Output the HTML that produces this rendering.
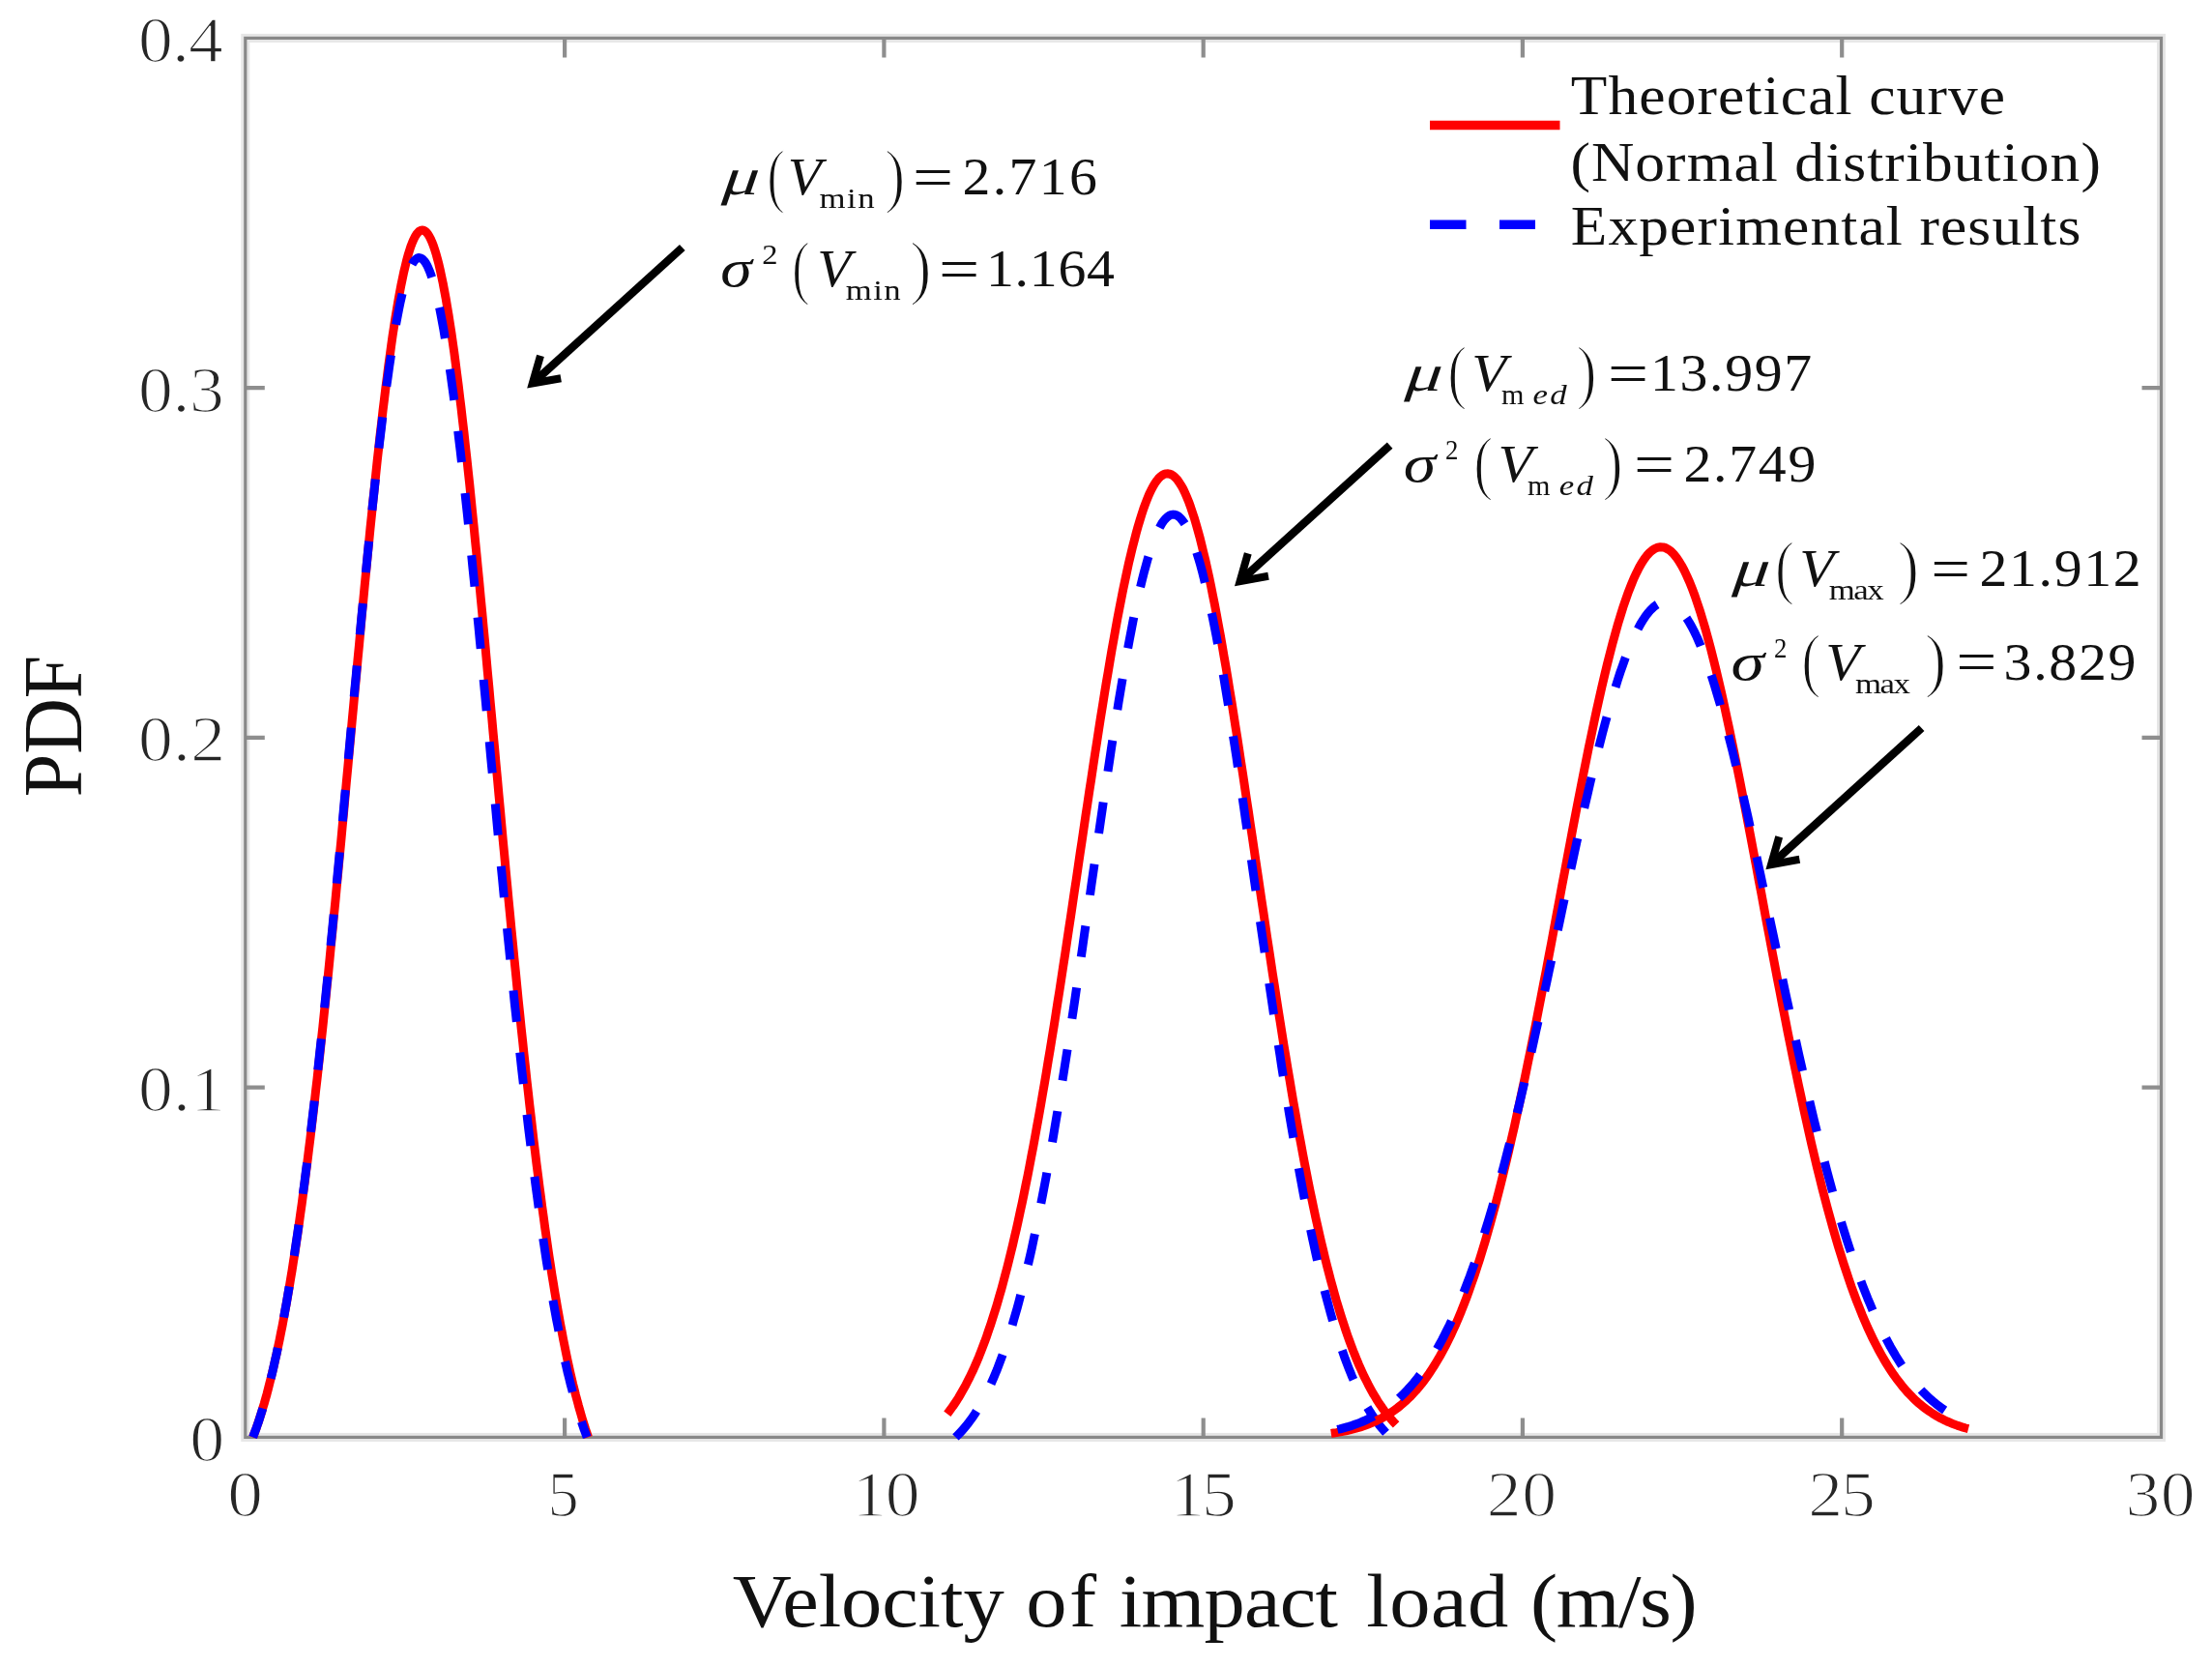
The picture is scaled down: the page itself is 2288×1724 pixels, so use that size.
<!DOCTYPE html><html><head><meta charset="utf-8"><title>PDF of impact load velocity</title>
<style>html,body{margin:0;padding:0;background:#fff}svg{display:block;filter:blur(0.6px)}text{font-family:"Liberation Serif","DejaVu Serif",serif;white-space:pre}</style></head><body>
<svg width="2288" height="1724" viewBox="0 0 2288 1724">
<rect width="2288" height="1724" fill="#fff"/>
<rect x="253.8" y="39.4" width="1981.7" height="1447.0" fill="none" stroke="#e6e6e6" stroke-width="9"/>
<g stroke="#8e8e8e" stroke-width="4.2" fill="none">
<path d="M584.1 1486.4v-20 M584.1 39.4v20"/>
<path d="M914.4 1486.4v-20 M914.4 39.4v20"/>
<path d="M1244.7 1486.4v-20 M1244.7 39.4v20"/>
<path d="M1574.9 1486.4v-20 M1574.9 39.4v20"/>
<path d="M1905.2 1486.4v-20 M1905.2 39.4v20"/>
<path d="M253.8 1124.7h20 M2235.5 1124.7h-20"/>
<path d="M253.8 762.9h20 M2235.5 762.9h-20"/>
<path d="M253.8 401.2h20 M2235.5 401.2h-20"/>
</g>
<rect x="253.8" y="39.4" width="1981.7" height="1447.0" fill="none" stroke="#888" stroke-width="3.2"/>
<text transform="translate(84.2 824.3) rotate(-90) scale(1 1.086)" font-size="79.9" fill="#111">PDF</text>
<path d="M261.6 1486.4 L263.0 1482.6 L264.5 1478.7 L265.9 1474.6 L267.4 1470.3 L268.8 1465.9 L270.3 1461.4 L271.7 1456.6 L273.2 1451.7 L274.6 1446.7 L276.1 1441.4 L277.5 1436.0 L278.9 1430.4 L280.4 1424.6 L281.8 1418.7 L283.3 1412.5 L284.7 1406.1 L286.2 1399.6 L287.6 1392.8 L289.1 1385.9 L290.5 1378.7 L292.0 1371.3 L293.4 1363.7 L294.8 1355.9 L296.3 1347.9 L297.7 1339.7 L299.2 1331.2 L300.6 1322.6 L302.1 1313.7 L303.5 1304.5 L305.0 1295.2 L306.4 1285.6 L307.9 1275.8 L309.3 1265.8 L310.7 1255.5 L312.2 1245.1 L313.6 1234.3 L315.1 1223.4 L316.5 1212.3 L318.0 1200.9 L319.4 1189.3 L320.9 1177.5 L322.3 1165.5 L323.8 1153.2 L325.2 1140.8 L326.6 1128.1 L328.1 1115.2 L329.5 1102.2 L331.0 1088.9 L332.4 1075.5 L333.9 1061.8 L335.3 1048.0 L336.8 1034.0 L338.2 1019.8 L339.7 1005.5 L341.1 991.1 L342.5 976.4 L344.0 961.7 L345.4 946.8 L346.9 931.7 L348.3 916.6 L349.8 901.4 L351.2 886.0 L352.7 870.6 L354.1 855.1 L355.6 839.5 L357.0 823.9 L358.4 808.2 L359.9 792.5 L361.3 776.8 L362.8 761.0 L364.2 745.3 L365.7 729.5 L367.1 713.8 L368.6 698.2 L370.0 682.5 L371.5 667.0 L372.9 651.5 L374.3 636.1 L375.8 620.8 L377.2 605.6 L378.7 590.6 L380.1 575.7 L381.6 560.9 L383.0 546.3 L384.5 531.9 L385.9 517.7 L387.4 503.7 L388.8 490.0 L390.2 476.5 L391.7 463.2 L393.1 450.2 L394.6 437.5 L396.0 425.0 L397.5 412.9 L398.9 401.1 L400.4 389.6 L401.8 378.4 L403.3 367.6 L404.7 357.2 L406.1 347.1 L407.6 337.5 L409.0 328.2 L410.5 319.3 L411.9 310.9 L413.4 302.8 L414.8 295.2 L416.3 288.1 L417.7 281.4 L419.2 275.2 L420.6 269.4 L422.0 264.1 L423.5 259.2 L424.9 254.9 L426.4 251.0 L427.8 247.7 L429.3 244.8 L430.7 242.4 L432.2 240.6 L433.6 239.2 L435.1 238.4 L436.5 238.0 L438.0 238.2 L439.4 238.8 L440.8 240.0 L442.3 241.7 L443.7 243.9 L445.2 246.6 L446.6 249.8 L448.1 253.5 L449.5 257.7 L451.0 262.4 L452.4 267.5 L453.9 273.2 L455.3 279.3 L456.7 285.9 L458.2 292.9 L459.6 300.4 L461.1 308.3 L462.5 316.7 L464.0 325.5 L465.4 334.6 L466.9 344.2 L468.3 354.2 L469.8 364.6 L471.2 375.3 L472.6 386.4 L474.1 397.9 L475.5 409.7 L477.0 421.8 L478.4 434.2 L479.9 446.9 L481.3 459.9 L482.8 473.2 L484.2 486.7 L485.7 500.5 L487.1 514.5 L488.5 528.7 L490.0 543.2 L491.4 557.8 L492.9 572.6 L494.3 587.5 L495.8 602.6 L497.2 617.9 L498.7 633.3 L500.1 648.7 L501.6 664.3 L503.0 679.9 L504.4 695.7 L505.9 711.4 L507.3 727.3 L508.8 743.1 L510.2 759.0 L511.7 774.8 L513.1 790.7 L514.6 806.5 L516.0 822.3 L517.5 838.1 L518.9 853.8 L520.3 869.5 L521.8 885.0 L523.2 900.5 L524.7 915.9 L526.1 931.2 L527.6 946.4 L529.0 961.4 L530.5 976.4 L531.9 991.2 L533.4 1005.8 L534.8 1020.3 L536.2 1034.6 L537.7 1048.8 L539.1 1062.8 L540.6 1076.6 L542.0 1090.2 L543.5 1103.6 L544.9 1116.9 L546.4 1129.9 L547.8 1142.7 L549.3 1155.4 L550.7 1167.8 L552.1 1180.0 L553.6 1192.0 L555.0 1203.7 L556.5 1215.3 L557.9 1226.6 L559.4 1237.7 L560.8 1248.5 L562.3 1259.2 L563.7 1269.6 L565.2 1279.8 L566.6 1289.8 L568.0 1299.5 L569.5 1309.0 L570.9 1318.3 L572.4 1327.3 L573.8 1336.1 L575.3 1344.7 L576.7 1353.1 L578.2 1361.3 L579.6 1369.2 L581.1 1376.9 L582.5 1384.5 L584.0 1391.8 L585.4 1398.8 L586.8 1405.7 L588.3 1412.4 L589.7 1418.9 L591.2 1425.2 L592.6 1431.3 L594.1 1437.2 L595.5 1442.9 L597.0 1448.4 L598.4 1453.7 L599.9 1458.9 L601.3 1463.9 L602.7 1468.7 L604.2 1473.4 L605.6 1477.9 L607.1 1482.2 L608.5 1486.4" fill="none" stroke="#ff0000" stroke-width="9" stroke-linejoin="round"/>
<path d="M261.6 1486.4 L263.0 1482.6 L264.5 1478.7 L265.9 1474.6 L267.4 1470.4 L268.8 1466.1 L270.2 1461.5 L271.7 1456.8 L273.1 1451.9 L274.6 1446.9 L276.0 1441.7 L277.4 1436.3 L278.9 1430.7 L280.3 1424.9 L281.8 1419.0 L283.2 1412.8 L284.6 1406.4 L286.1 1399.9 L287.5 1393.1 L289.0 1386.2 L290.4 1379.0 L291.8 1371.6 L293.3 1364.0 L294.7 1356.2 L296.2 1348.2 L297.6 1340.0 L299.0 1331.5 L300.5 1322.8 L301.9 1313.9 L303.4 1304.8 L304.8 1295.4 L306.2 1285.8 L307.7 1276.0 L309.1 1265.9 L310.6 1255.6 L312.0 1245.1 L313.4 1234.4 L314.9 1223.5 L316.3 1212.3 L317.8 1200.9 L319.2 1189.3 L320.6 1177.4 L322.1 1165.4 L323.5 1153.1 L325.0 1140.6 L326.4 1127.9 L327.8 1115.0 L329.3 1102.0 L330.7 1088.7 L332.2 1075.2 L333.6 1061.6 L335.0 1047.7 L336.5 1033.7 L337.9 1019.6 L339.4 1005.3 L340.8 990.8 L342.2 976.2 L343.7 961.4 L345.1 946.6 L346.6 931.6 L348.0 916.5 L349.4 901.3 L350.9 886.0 L352.3 870.6 L353.8 855.2 L355.2 839.7 L356.6 824.2 L358.1 808.6 L359.5 793.0 L361.0 777.4 L362.4 761.8 L363.8 746.2 L365.3 730.6 L366.7 715.1 L368.2 699.6 L369.6 684.2 L371.0 668.9 L372.5 653.6 L373.9 638.5 L375.4 623.4 L376.8 608.6 L378.2 593.8 L379.7 579.2 L381.1 564.8 L382.6 550.6 L384.0 536.6 L385.4 522.7 L386.9 509.2 L388.3 495.8 L389.8 482.8 L391.2 469.9 L392.6 457.4 L394.1 445.2 L395.5 433.3 L397.0 421.7 L398.4 410.4 L399.8 399.5 L401.3 389.0 L402.7 378.8 L404.2 369.0 L405.6 359.6 L407.0 350.5 L408.5 342.0 L409.9 333.8 L411.4 326.0 L412.8 318.7 L414.2 311.9 L415.7 305.5 L417.1 299.6 L418.6 294.1 L420.0 289.2 L421.4 284.7 L422.9 280.7 L424.3 277.1 L425.8 274.1 L427.2 271.6 L428.6 269.6 L430.1 268.1 L431.5 267.1 L433.0 266.6 L434.4 266.7 L435.8 267.2 L437.3 268.2 L438.7 269.7 L440.2 271.7 L441.6 274.2 L443.0 277.2 L444.5 280.7 L445.9 284.6 L447.4 289.1 L448.8 294.0 L450.2 299.3 L451.7 305.2 L453.1 311.4 L454.6 318.2 L456.0 325.3 L457.4 332.9 L458.9 340.9 L460.3 349.4 L461.8 358.2 L463.2 367.4 L464.6 377.1 L466.1 387.1 L467.5 397.4 L469.0 408.1 L470.4 419.2 L471.8 430.5 L473.3 442.2 L474.7 454.2 L476.2 466.5 L477.6 479.1 L479.0 491.9 L480.5 505.0 L481.9 518.4 L483.4 531.9 L484.8 545.7 L486.2 559.7 L487.7 573.9 L489.1 588.2 L490.6 602.7 L492.0 617.4 L493.4 632.2 L494.9 647.1 L496.3 662.1 L497.8 677.2 L499.2 692.4 L500.6 707.7 L502.1 723.0 L503.5 738.4 L505.0 753.8 L506.4 769.2 L507.8 784.6 L509.3 800.0 L510.7 815.4 L512.2 830.8 L513.6 846.1 L515.0 861.4 L516.5 876.6 L517.9 891.8 L519.4 906.9 L520.8 921.9 L522.2 936.8 L523.7 951.5 L525.1 966.2 L526.6 980.7 L528.0 995.1 L529.4 1009.4 L530.9 1023.5 L532.3 1037.5 L533.8 1051.3 L535.2 1064.9 L536.6 1078.4 L538.1 1091.7 L539.5 1104.8 L541.0 1117.7 L542.4 1130.4 L543.8 1142.9 L545.3 1155.2 L546.7 1167.3 L548.2 1179.2 L549.6 1190.9 L551.0 1202.4 L552.5 1213.7 L553.9 1224.7 L555.4 1235.6 L556.8 1246.2 L558.2 1256.6 L559.7 1266.7 L561.1 1276.7 L562.6 1286.4 L564.0 1295.9 L565.4 1305.2 L566.9 1314.3 L568.3 1323.1 L569.8 1331.7 L571.2 1340.1 L572.6 1348.3 L574.1 1356.3 L575.5 1364.1 L577.0 1371.6 L578.4 1378.9 L579.8 1386.1 L581.3 1393.0 L582.7 1399.7 L584.2 1406.3 L585.6 1412.6 L587.0 1418.8 L588.5 1424.7 L589.9 1430.5 L591.4 1436.1 L592.8 1441.5 L594.2 1446.7 L595.7 1451.8 L597.1 1456.6 L598.6 1461.4 L600.0 1465.9 L601.4 1470.3 L602.9 1474.6 L604.3 1478.7 L605.8 1482.6 L607.2 1486.4" fill="none" stroke="#0000ff" stroke-width="9" stroke-dasharray="31.5 32.1 32.5 32.1 32.5 32.1 32.5 32.1 32.5 32.1 32.5 32.1 32.5 32.1 32.5 32.1 32.5 32.1 32.5 32.1 32.5 32.1 32.5 32.1 32.5 32.1 32.5 32.1 32.5 32.1 32.5 32.1 32.5 32.1 32.5 32.1 32.5 32.1 35.8 32.1 32.5 32.1 32.5 32.1 32.5 32.1 32.5 32.1 32.5 32.1 32.5 32.1 32.5 32.1 32.5 32.1 32.5 32.1 32.5 32.1 32.5 32.1 32.5 32.1 32.5 32.1 32.5 32.1 32.5 32.1 32.5 32.1 32.5 32.1 32.5 32.1 32.5 32.1 32.5 32.1" stroke-linejoin="round"/>
<path d="M979.8 1462.2 L981.7 1459.7 L983.6 1457.1 L985.6 1454.4 L987.5 1451.6 L989.4 1448.7 L991.4 1445.6 L993.3 1442.4 L995.2 1439.1 L997.2 1435.6 L999.1 1432.1 L1001.0 1428.3 L1003.0 1424.4 L1004.9 1420.4 L1006.9 1416.2 L1008.8 1411.9 L1010.7 1407.4 L1012.7 1402.7 L1014.6 1397.9 L1016.5 1392.9 L1018.5 1387.7 L1020.4 1382.4 L1022.3 1376.8 L1024.3 1371.1 L1026.2 1365.2 L1028.1 1359.2 L1030.1 1352.9 L1032.0 1346.4 L1033.9 1339.8 L1035.9 1332.9 L1037.8 1325.9 L1039.7 1318.6 L1041.7 1311.2 L1043.6 1303.5 L1045.5 1295.7 L1047.5 1287.6 L1049.4 1279.3 L1051.4 1270.9 L1053.3 1262.2 L1055.2 1253.3 L1057.2 1244.3 L1059.1 1235.0 L1061.0 1225.5 L1063.0 1215.9 L1064.9 1206.0 L1066.8 1195.9 L1068.8 1185.7 L1070.7 1175.3 L1072.6 1164.6 L1074.6 1153.8 L1076.5 1142.9 L1078.4 1131.7 L1080.4 1120.4 L1082.3 1108.9 L1084.2 1097.3 L1086.2 1085.5 L1088.1 1073.6 L1090.1 1061.5 L1092.0 1049.4 L1093.9 1037.0 L1095.9 1024.6 L1097.8 1012.1 L1099.7 999.5 L1101.7 986.7 L1103.6 973.9 L1105.5 961.1 L1107.5 948.1 L1109.4 935.2 L1111.3 922.2 L1113.3 909.1 L1115.2 896.1 L1117.1 883.0 L1119.1 869.9 L1121.0 856.9 L1122.9 843.9 L1124.9 830.9 L1126.8 818.0 L1128.8 805.2 L1130.7 792.4 L1132.6 779.8 L1134.6 767.2 L1136.5 754.8 L1138.4 742.5 L1140.4 730.3 L1142.3 718.3 L1144.2 706.5 L1146.2 694.9 L1148.1 683.5 L1150.0 672.2 L1152.0 661.2 L1153.9 650.5 L1155.8 640.0 L1157.8 629.7 L1159.7 619.8 L1161.6 610.1 L1163.6 600.7 L1165.5 591.7 L1167.4 582.9 L1169.4 574.5 L1171.3 566.5 L1173.3 558.8 L1175.2 551.4 L1177.1 544.5 L1179.1 537.9 L1181.0 531.7 L1182.9 525.9 L1184.9 520.5 L1186.8 515.6 L1188.7 511.0 L1190.7 506.9 L1192.6 503.2 L1194.5 500.0 L1196.5 497.2 L1198.4 494.8 L1200.3 492.9 L1202.3 491.5 L1204.2 490.4 L1206.1 489.9 L1208.1 489.8 L1210.0 490.2 L1212.0 491.0 L1213.9 492.2 L1215.8 494.0 L1217.8 496.1 L1219.7 498.8 L1221.6 501.8 L1223.6 505.3 L1225.5 509.3 L1227.4 513.6 L1229.4 518.4 L1231.3 523.6 L1233.2 529.3 L1235.2 535.3 L1237.1 541.7 L1239.0 548.5 L1241.0 555.7 L1242.9 563.3 L1244.8 571.2 L1246.8 579.4 L1248.7 588.0 L1250.7 597.0 L1252.6 606.2 L1254.5 615.8 L1256.5 625.6 L1258.4 635.8 L1260.3 646.2 L1262.3 656.8 L1264.2 667.7 L1266.1 678.9 L1268.1 690.2 L1270.0 701.8 L1271.9 713.6 L1273.9 725.5 L1275.8 737.6 L1277.7 749.9 L1279.7 762.3 L1281.6 774.8 L1283.5 787.4 L1285.5 800.1 L1287.4 813.0 L1289.3 825.9 L1291.3 838.8 L1293.2 851.8 L1295.2 864.9 L1297.1 877.9 L1299.0 891.0 L1301.0 904.1 L1302.9 917.1 L1304.8 930.2 L1306.8 943.2 L1308.7 956.2 L1310.6 969.1 L1312.6 981.9 L1314.5 994.7 L1316.4 1007.4 L1318.4 1020.0 L1320.3 1032.4 L1322.2 1044.8 L1324.2 1057.1 L1326.1 1069.2 L1328.0 1081.2 L1330.0 1093.1 L1331.9 1104.8 L1333.9 1116.3 L1335.8 1127.7 L1337.7 1139.0 L1339.7 1150.0 L1341.6 1160.9 L1343.5 1171.6 L1345.5 1182.1 L1347.4 1192.5 L1349.3 1202.6 L1351.3 1212.6 L1353.2 1222.3 L1355.1 1231.9 L1357.1 1241.3 L1359.0 1250.4 L1360.9 1259.4 L1362.9 1268.2 L1364.8 1276.7 L1366.7 1285.1 L1368.7 1293.2 L1370.6 1301.2 L1372.5 1308.9 L1374.5 1316.5 L1376.4 1323.8 L1378.4 1331.0 L1380.3 1337.9 L1382.2 1344.7 L1384.2 1351.2 L1386.1 1357.6 L1388.0 1363.7 L1390.0 1369.7 L1391.9 1375.5 L1393.8 1381.1 L1395.8 1386.6 L1397.7 1391.8 L1399.6 1396.9 L1401.6 1401.8 L1403.5 1406.6 L1405.4 1411.1 L1407.4 1415.5 L1409.3 1419.8 L1411.2 1423.9 L1413.2 1427.8 L1415.1 1431.6 L1417.1 1435.3 L1419.0 1438.8 L1420.9 1442.2 L1422.9 1445.4 L1424.8 1448.6 L1426.7 1451.6 L1428.7 1454.4 L1430.6 1457.2 L1432.5 1459.8 L1434.5 1462.3 L1436.4 1464.7 L1438.3 1467.0 L1440.3 1469.3 L1442.2 1471.4 L1444.1 1473.4" fill="none" stroke="#ff0000" stroke-width="9" stroke-linejoin="round"/>
<path d="M988.4 1486.4 L990.2 1484.6 L992.1 1482.7 L994.0 1480.8 L995.8 1478.7 L997.7 1476.5 L999.6 1474.3 L1001.5 1471.9 L1003.3 1469.4 L1005.2 1466.8 L1007.1 1464.1 L1009.0 1461.2 L1010.8 1458.2 L1012.7 1455.1 L1014.6 1451.9 L1016.5 1448.5 L1018.3 1445.0 L1020.2 1441.3 L1022.1 1437.5 L1024.0 1433.5 L1025.8 1429.4 L1027.7 1425.1 L1029.6 1420.6 L1031.5 1416.0 L1033.3 1411.2 L1035.2 1406.2 L1037.1 1401.0 L1039.0 1395.7 L1040.8 1390.1 L1042.7 1384.4 L1044.6 1378.5 L1046.5 1372.4 L1048.3 1366.1 L1050.2 1359.6 L1052.1 1352.9 L1054.0 1345.9 L1055.8 1338.8 L1057.7 1331.5 L1059.6 1324.0 L1061.5 1316.2 L1063.3 1308.2 L1065.2 1300.1 L1067.1 1291.7 L1068.9 1283.1 L1070.8 1274.3 L1072.7 1265.2 L1074.6 1256.0 L1076.4 1246.6 L1078.3 1236.9 L1080.2 1227.0 L1082.1 1217.0 L1083.9 1206.7 L1085.8 1196.3 L1087.7 1185.6 L1089.6 1174.8 L1091.4 1163.8 L1093.3 1152.6 L1095.2 1141.2 L1097.1 1129.6 L1098.9 1117.9 L1100.8 1106.1 L1102.7 1094.0 L1104.6 1081.9 L1106.4 1069.6 L1108.3 1057.2 L1110.2 1044.7 L1112.1 1032.0 L1113.9 1019.3 L1115.8 1006.5 L1117.7 993.6 L1119.6 980.6 L1121.4 967.6 L1123.3 954.5 L1125.2 941.4 L1127.1 928.3 L1128.9 915.2 L1130.8 902.0 L1132.7 888.9 L1134.6 875.8 L1136.4 862.8 L1138.3 849.8 L1140.2 836.9 L1142.0 824.1 L1143.9 811.4 L1145.8 798.8 L1147.7 786.3 L1149.5 773.9 L1151.4 761.8 L1153.3 749.8 L1155.2 737.9 L1157.0 726.3 L1158.9 714.9 L1160.8 703.7 L1162.7 692.8 L1164.5 682.1 L1166.4 671.7 L1168.3 661.5 L1170.2 651.7 L1172.0 642.2 L1173.9 633.0 L1175.8 624.1 L1177.7 615.6 L1179.5 607.4 L1181.4 599.6 L1183.3 592.2 L1185.2 585.2 L1187.0 578.6 L1188.9 572.4 L1190.8 566.6 L1192.7 561.2 L1194.5 556.3 L1196.4 551.8 L1198.3 547.8 L1200.2 544.2 L1202.0 541.0 L1203.9 538.4 L1205.8 536.2 L1207.7 534.4 L1209.5 533.2 L1211.4 532.4 L1213.3 532.1 L1215.1 532.3 L1217.0 532.9 L1218.9 534.0 L1220.8 535.6 L1222.6 537.7 L1224.5 540.2 L1226.4 543.2 L1228.3 546.7 L1230.1 550.6 L1232.0 555.0 L1233.9 559.8 L1235.8 565.0 L1237.6 570.7 L1239.5 576.8 L1241.4 583.3 L1243.3 590.2 L1245.1 597.5 L1247.0 605.2 L1248.9 613.3 L1250.8 621.7 L1252.6 630.5 L1254.5 639.6 L1256.4 649.0 L1258.3 658.8 L1260.1 668.8 L1262.0 679.2 L1263.9 689.8 L1265.8 700.7 L1267.6 711.8 L1269.5 723.2 L1271.4 734.7 L1273.3 746.5 L1275.1 758.5 L1277.0 770.6 L1278.9 782.9 L1280.7 795.4 L1282.6 808.0 L1284.5 820.7 L1286.4 833.5 L1288.2 846.3 L1290.1 859.3 L1292.0 872.3 L1293.9 885.4 L1295.7 898.5 L1297.6 911.7 L1299.5 924.8 L1301.4 937.9 L1303.2 951.0 L1305.1 964.1 L1307.0 977.2 L1308.9 990.2 L1310.7 1003.1 L1312.6 1015.9 L1314.5 1028.7 L1316.4 1041.4 L1318.2 1053.9 L1320.1 1066.4 L1322.0 1078.7 L1323.9 1090.9 L1325.7 1103.0 L1327.6 1114.9 L1329.5 1126.7 L1331.4 1138.3 L1333.2 1149.7 L1335.1 1160.9 L1337.0 1172.0 L1338.9 1182.9 L1340.7 1193.6 L1342.6 1204.1 L1344.5 1214.5 L1346.4 1224.6 L1348.2 1234.5 L1350.1 1244.2 L1352.0 1253.7 L1353.8 1263.0 L1355.7 1272.1 L1357.6 1281.0 L1359.5 1289.7 L1361.3 1298.1 L1363.2 1306.4 L1365.1 1314.4 L1367.0 1322.2 L1368.8 1329.8 L1370.7 1337.2 L1372.6 1344.4 L1374.5 1351.4 L1376.3 1358.1 L1378.2 1364.7 L1380.1 1371.1 L1382.0 1377.2 L1383.8 1383.2 L1385.7 1389.0 L1387.6 1394.6 L1389.5 1400.0 L1391.3 1405.2 L1393.2 1410.2 L1395.1 1415.1 L1397.0 1419.8 L1398.8 1424.3 L1400.7 1428.6 L1402.6 1432.8 L1404.5 1436.8 L1406.3 1440.7 L1408.2 1444.4 L1410.1 1448.0 L1412.0 1451.4 L1413.8 1454.7 L1415.7 1457.8 L1417.6 1460.9 L1419.5 1463.7 L1421.3 1466.5 L1423.2 1469.2 L1425.1 1471.7 L1426.9 1474.1 L1428.8 1476.4 L1430.7 1478.6 L1432.6 1480.7 L1434.4 1482.7 L1436.3 1484.6 L1438.2 1486.4" fill="none" stroke="#0000ff" stroke-width="9" stroke-dasharray="34.7 32.1 32.5 32.1 32.5 32.1 32.5 32.1 32.5 32.1 32.5 32.1 32.5 32.1 32.5 32.1 32.5 32.1 32.5 32.1 32.5 32.1 32.5 32.1 32.5 32.1 32.5 32.1 32.5 32.1 36.5 32.1 32.5 32.1 32.5 32.1 32.5 32.1 32.5 32.1 32.5 32.1 32.5 32.1 32.5 32.1 32.5 32.1 32.5 32.1 32.5 32.1 32.5 32.1 32.5 32.1 32.5 32.1 32.5 32.1 32.5 32.1 32.5 32.1" stroke-linejoin="round"/>
<path d="M1376.8 1482.4 L1379.5 1482.0 L1382.3 1481.6 L1385.0 1481.1 L1387.8 1480.6 L1390.5 1480.1 L1393.2 1479.5 L1396.0 1478.9 L1398.7 1478.2 L1401.5 1477.5 L1404.2 1476.7 L1407.0 1475.9 L1409.7 1475.0 L1412.5 1474.0 L1415.2 1473.0 L1418.0 1471.9 L1420.7 1470.7 L1423.5 1469.5 L1426.2 1468.1 L1429.0 1466.7 L1431.7 1465.2 L1434.4 1463.6 L1437.2 1461.9 L1439.9 1460.1 L1442.7 1458.1 L1445.4 1456.1 L1448.2 1453.9 L1450.9 1451.6 L1453.7 1449.2 L1456.4 1446.6 L1459.2 1443.9 L1461.9 1441.0 L1464.7 1438.0 L1467.4 1434.8 L1470.2 1431.4 L1472.9 1427.9 L1475.7 1424.1 L1478.4 1420.2 L1481.1 1416.1 L1483.9 1411.8 L1486.6 1407.3 L1489.4 1402.5 L1492.1 1397.6 L1494.9 1392.4 L1497.6 1387.0 L1500.4 1381.3 L1503.1 1375.4 L1505.9 1369.3 L1508.6 1362.9 L1511.4 1356.2 L1514.1 1349.3 L1516.9 1342.1 L1519.6 1334.7 L1522.3 1326.9 L1525.1 1318.9 L1527.8 1310.7 L1530.6 1302.1 L1533.3 1293.3 L1536.1 1284.1 L1538.8 1274.7 L1541.6 1265.0 L1544.3 1255.0 L1547.1 1244.8 L1549.8 1234.3 L1552.6 1223.4 L1555.3 1212.4 L1558.1 1201.0 L1560.8 1189.4 L1563.5 1177.5 L1566.3 1165.4 L1569.0 1153.0 L1571.8 1140.4 L1574.5 1127.5 L1577.3 1114.5 L1580.0 1101.2 L1582.8 1087.7 L1585.5 1074.1 L1588.3 1060.3 L1591.0 1046.3 L1593.8 1032.2 L1596.5 1017.9 L1599.3 1003.5 L1602.0 989.1 L1604.8 974.5 L1607.5 959.9 L1610.2 945.3 L1613.0 930.6 L1615.7 915.9 L1618.5 901.3 L1621.2 886.7 L1624.0 872.1 L1626.7 857.6 L1629.5 843.2 L1632.2 829.0 L1635.0 814.9 L1637.7 801.0 L1640.5 787.2 L1643.2 773.7 L1646.0 760.4 L1648.7 747.4 L1651.4 734.7 L1654.2 722.3 L1656.9 710.2 L1659.7 698.4 L1662.4 687.1 L1665.2 676.1 L1667.9 665.6 L1670.7 655.5 L1673.4 645.8 L1676.2 636.6 L1678.9 627.9 L1681.7 619.7 L1684.4 612.1 L1687.2 605.0 L1689.9 598.4 L1692.7 592.4 L1695.4 587.0 L1698.1 582.2 L1700.9 578.0 L1703.6 574.4 L1706.4 571.4 L1709.1 569.1 L1711.9 567.3 L1714.6 566.2 L1717.4 565.8 L1720.1 565.9 L1722.9 566.7 L1725.6 568.2 L1728.4 570.2 L1731.1 572.9 L1733.9 576.3 L1736.6 580.2 L1739.3 584.7 L1742.1 589.9 L1744.8 595.6 L1747.6 601.9 L1750.3 608.7 L1753.1 616.1 L1755.8 624.1 L1758.6 632.5 L1761.3 641.5 L1764.1 650.9 L1766.8 660.8 L1769.6 671.1 L1772.3 681.9 L1775.1 693.1 L1777.8 704.6 L1780.6 716.6 L1783.3 728.8 L1786.0 741.4 L1788.8 754.3 L1791.5 767.5 L1794.3 780.9 L1797.0 794.5 L1799.8 808.4 L1802.5 822.4 L1805.3 836.6 L1808.0 850.9 L1810.8 865.3 L1813.5 879.8 L1816.3 894.4 L1819.0 909.1 L1821.8 923.7 L1824.5 938.4 L1827.2 953.1 L1830.0 967.7 L1832.7 982.3 L1835.5 996.8 L1838.2 1011.2 L1841.0 1025.5 L1843.7 1039.7 L1846.5 1053.7 L1849.2 1067.6 L1852.0 1081.3 L1854.7 1094.9 L1857.5 1108.3 L1860.2 1121.4 L1863.0 1134.3 L1865.7 1147.1 L1868.5 1159.6 L1871.2 1171.8 L1873.9 1183.8 L1876.7 1195.5 L1879.4 1207.0 L1882.2 1218.2 L1884.9 1229.2 L1887.7 1239.8 L1890.4 1250.2 L1893.2 1260.3 L1895.9 1270.1 L1898.7 1279.7 L1901.4 1288.9 L1904.2 1297.9 L1906.9 1306.6 L1909.7 1315.0 L1912.4 1323.1 L1915.1 1331.0 L1917.9 1338.6 L1920.6 1345.9 L1923.4 1352.9 L1926.1 1359.7 L1928.9 1366.2 L1931.6 1372.5 L1934.4 1378.5 L1937.1 1384.2 L1939.9 1389.8 L1942.6 1395.0 L1945.4 1400.1 L1948.1 1404.9 L1950.9 1409.6 L1953.6 1414.0 L1956.4 1418.2 L1959.1 1422.2 L1961.8 1426.0 L1964.6 1429.6 L1967.3 1433.1 L1970.1 1436.4 L1972.8 1439.5 L1975.6 1442.4 L1978.3 1445.2 L1981.1 1447.9 L1983.8 1450.4 L1986.6 1452.7 L1989.3 1454.9 L1992.1 1457.1 L1994.8 1459.0 L1997.6 1460.9 L2000.3 1462.7 L2003.0 1464.3 L2005.8 1465.9 L2008.5 1467.3 L2011.3 1468.7 L2014.0 1470.0 L2016.8 1471.2 L2019.5 1472.3 L2022.3 1473.4 L2025.0 1474.4 L2027.8 1475.3 L2030.5 1476.2 L2033.3 1477.0 L2036.0 1477.7" fill="none" stroke="#ff0000" stroke-width="9" stroke-linejoin="round"/>
<path d="M1383.4 1478.4 L1386.0 1477.8 L1388.6 1477.1 L1391.3 1476.4 L1393.9 1475.7 L1396.6 1474.9 L1399.2 1474.0 L1401.8 1473.1 L1404.5 1472.1 L1407.1 1471.1 L1409.7 1470.0 L1412.4 1468.8 L1415.0 1467.6 L1417.6 1466.3 L1420.3 1464.9 L1422.9 1463.5 L1425.6 1462.0 L1428.2 1460.4 L1430.8 1458.7 L1433.5 1456.9 L1436.1 1455.0 L1438.7 1453.0 L1441.4 1450.9 L1444.0 1448.7 L1446.7 1446.4 L1449.3 1443.9 L1451.9 1441.4 L1454.6 1438.7 L1457.2 1435.9 L1459.8 1433.0 L1462.5 1429.9 L1465.1 1426.7 L1467.7 1423.3 L1470.4 1419.8 L1473.0 1416.2 L1475.7 1412.3 L1478.3 1408.4 L1480.9 1404.2 L1483.6 1399.9 L1486.2 1395.4 L1488.8 1390.7 L1491.5 1385.9 L1494.1 1380.8 L1496.7 1375.6 L1499.4 1370.2 L1502.0 1364.6 L1504.7 1358.8 L1507.3 1352.7 L1509.9 1346.5 L1512.6 1340.1 L1515.2 1333.5 L1517.8 1326.6 L1520.5 1319.6 L1523.1 1312.3 L1525.8 1304.8 L1528.4 1297.1 L1531.0 1289.2 L1533.7 1281.1 L1536.3 1272.7 L1538.9 1264.2 L1541.6 1255.4 L1544.2 1246.4 L1546.8 1237.2 L1549.5 1227.8 L1552.1 1218.2 L1554.8 1208.4 L1557.4 1198.4 L1560.0 1188.2 L1562.7 1177.8 L1565.3 1167.3 L1567.9 1156.5 L1570.6 1145.6 L1573.2 1134.6 L1575.9 1123.3 L1578.5 1112.0 L1581.1 1100.4 L1583.8 1088.8 L1586.4 1077.0 L1589.0 1065.1 L1591.7 1053.2 L1594.3 1041.1 L1596.9 1028.9 L1599.6 1016.7 L1602.2 1004.4 L1604.9 992.1 L1607.5 979.7 L1610.1 967.4 L1612.8 955.0 L1615.4 942.6 L1618.0 930.3 L1620.7 917.9 L1623.3 905.7 L1626.0 893.5 L1628.6 881.4 L1631.2 869.4 L1633.9 857.5 L1636.5 845.7 L1639.1 834.0 L1641.8 822.6 L1644.4 811.3 L1647.0 800.2 L1649.7 789.3 L1652.3 778.6 L1655.0 768.2 L1657.6 758.0 L1660.2 748.1 L1662.9 738.4 L1665.5 729.1 L1668.1 720.1 L1670.8 711.4 L1673.4 703.0 L1676.0 695.0 L1678.7 687.4 L1681.3 680.1 L1684.0 673.2 L1686.6 666.7 L1689.2 660.7 L1691.9 655.0 L1694.5 649.8 L1697.1 645.0 L1699.8 640.7 L1702.4 636.8 L1705.1 633.4 L1707.7 630.4 L1710.3 627.9 L1713.0 625.9 L1715.6 624.3 L1718.2 623.3 L1720.9 622.7 L1723.5 622.6 L1726.1 622.9 L1728.8 623.8 L1731.4 625.2 L1734.1 627.0 L1736.7 629.4 L1739.3 632.2 L1742.0 635.5 L1744.6 639.3 L1747.2 643.5 L1749.9 648.2 L1752.5 653.3 L1755.2 658.9 L1757.8 664.9 L1760.4 671.3 L1763.1 678.2 L1765.7 685.4 L1768.3 693.1 L1771.0 701.1 L1773.6 709.4 L1776.2 718.1 L1778.9 727.2 L1781.5 736.6 L1784.2 746.2 L1786.8 756.2 L1789.4 766.5 L1792.1 777.0 L1794.7 787.7 L1797.3 798.7 L1800.0 809.9 L1802.6 821.3 L1805.3 832.9 L1807.9 844.6 L1810.5 856.5 L1813.2 868.5 L1815.8 880.6 L1818.4 892.9 L1821.1 905.2 L1823.7 917.6 L1826.3 930.0 L1829.0 942.5 L1831.6 955.0 L1834.3 967.5 L1836.9 980.0 L1839.5 992.5 L1842.2 1005.0 L1844.8 1017.4 L1847.4 1029.7 L1850.1 1042.0 L1852.7 1054.2 L1855.3 1066.3 L1858.0 1078.3 L1860.6 1090.2 L1863.3 1101.9 L1865.9 1113.6 L1868.5 1125.0 L1871.2 1136.4 L1873.8 1147.5 L1876.4 1158.5 L1879.1 1169.3 L1881.7 1180.0 L1884.4 1190.4 L1887.0 1200.7 L1889.6 1210.7 L1892.3 1220.6 L1894.9 1230.2 L1897.5 1239.7 L1900.2 1248.9 L1902.8 1257.9 L1905.4 1266.7 L1908.1 1275.3 L1910.7 1283.7 L1913.4 1291.8 L1916.0 1299.7 L1918.6 1307.4 L1921.3 1314.9 L1923.9 1322.2 L1926.5 1329.2 L1929.2 1336.1 L1931.8 1342.7 L1934.5 1349.1 L1937.1 1355.3 L1939.7 1361.3 L1942.4 1367.1 L1945.0 1372.6 L1947.6 1378.0 L1950.3 1383.2 L1952.9 1388.2 L1955.5 1393.0 L1958.2 1397.6 L1960.8 1402.1 L1963.5 1406.4 L1966.1 1410.5 L1968.7 1414.4 L1971.4 1418.2 L1974.0 1421.8 L1976.6 1425.2 L1979.3 1428.5 L1981.9 1431.7 L1984.6 1434.7 L1987.2 1437.6 L1989.8 1440.3 L1992.5 1442.9 L1995.1 1445.4 L1997.7 1447.8 L2000.4 1450.1 L2003.0 1452.2 L2005.6 1454.3 L2008.3 1456.2 L2010.9 1458.0 L2013.6 1459.8 L2016.2 1461.4" fill="none" stroke="#0000ff" stroke-width="9" stroke-dasharray="40.2 32.1 32.5 32.1 32.5 32.1 32.5 32.1 32.5 32.1 32.5 32.1 32.5 32.1 32.5 32.1 32.5 32.1 32.5 32.1 32.5 32.1 32.5 32.1 32.5 32.1 32.5 32.1 32.5 37.6 32.5 32.1 32.5 32.1 32.5 32.1 32.5 32.1 32.5 32.1 32.5 32.1 32.5 32.1 32.5 32.1 32.5 32.1 32.5 32.1 32.5 32.1 32.5 32.1 32.5 32.1 32.5 32.1 32.5 32.1" stroke-linejoin="round"/>
<path d="M1479 129.6H1613.5" stroke="#ff0000" stroke-width="9.5"/>
<path d="M1479 232.2H1588" stroke="#0000ff" stroke-width="9.5" stroke-dasharray="37.5 34.5"/>
<path d="M705.8 256.0L551.5 395.8" stroke="#000" stroke-width="8.4" fill="none"/><path d="M559.0 367.8L550.8 396.5L580.2 391.2" stroke="#000" stroke-width="8" fill="none" stroke-linejoin="miter" stroke-miterlimit="10"/>
<path d="M1437.6 460.6L1283.3 600.4" stroke="#000" stroke-width="8.4" fill="none"/><path d="M1290.8 572.4L1282.6 601.1L1312.0 595.8" stroke="#000" stroke-width="8" fill="none" stroke-linejoin="miter" stroke-miterlimit="10"/>
<path d="M1987.6 753.0L1832.7 893.4" stroke="#000" stroke-width="8.4" fill="none"/><path d="M1840.2 865.4L1832.0 894.1L1861.4 888.8" stroke="#000" stroke-width="8" fill="none" stroke-linejoin="miter" stroke-miterlimit="10"/>
<text transform="translate(0 1681.5) scale(1.070 1)" font-size="79.0" fill="#111"><tspan x="708.1" letter-spacing="-0.09">Velocity</tspan> <tspan x="991.9" letter-spacing="2.17">of</tspan> <tspan x="1081.9" letter-spacing="-0.69">impact</tspan> <tspan x="1320.9" letter-spacing="0.43">load</tspan> <tspan x="1479.4" letter-spacing="-1.32">(m/s)</tspan></text>
<text transform="translate(235.2 1568.0) scale(1.095 1.000)" font-size="67.0" fill="#262626" stroke="#fff" stroke-width="1.5">0</text>
<text transform="translate(566.5 1568.0) scale(0.962 1.000)" font-size="67.0" fill="#262626" stroke="#fff" stroke-width="1.5">5</text>
<text transform="translate(881.5 1568.0) scale(1.070 1.000)" font-size="67.0" fill="#262626" letter-spacing="-1.54" stroke="#fff" stroke-width="1.5">10</text>
<text transform="translate(1210.6 1568.0) scale(1.070 1.000)" font-size="67.0" fill="#262626" letter-spacing="-3.22" stroke="#fff" stroke-width="1.5">15</text>
<text transform="translate(1537.7 1568.0) scale(1.070 1.000)" font-size="67.0" fill="#262626" letter-spacing="0.74" stroke="#fff" stroke-width="1.5">20</text>
<text transform="translate(1870.2 1568.0) scale(1.070 1.000)" font-size="67.0" fill="#262626" letter-spacing="-1.97" stroke="#fff" stroke-width="1.5">25</text>
<text transform="translate(2198.6 1568.0) scale(1.070 1.000)" font-size="67.0" fill="#262626" letter-spacing="0.29" stroke="#fff" stroke-width="1.5">30</text>
<text transform="translate(143.1 1149.0) scale(1.070 1.000)" font-size="67.0" fill="#262626" letter-spacing="0.13" stroke="#fff" stroke-width="1.5">0.1</text>
<text transform="translate(143.1 787.2) scale(1.070 1.000)" font-size="67.0" fill="#262626" letter-spacing="0.13" stroke="#fff" stroke-width="1.5">0.2</text>
<text transform="translate(143.1 425.5) scale(1.070 1.000)" font-size="67.0" fill="#262626" letter-spacing="-0.39" stroke="#fff" stroke-width="1.5">0.3</text>
<text transform="translate(143.1 63.7) scale(1.070 1.000)" font-size="67.0" fill="#262626" letter-spacing="-0.91" stroke="#fff" stroke-width="1.5">0.4</text>
<text transform="translate(196.2 1510.7) scale(1.075 1.000)" font-size="67.0" fill="#262626" stroke="#fff" stroke-width="1.5">0</text>
<text transform="translate(1624.8 118.3) scale(1.070 1.000)" font-size="57.4" fill="#111" letter-spacing="1.05">Theoretical curve</text>
<text transform="translate(1624.4 186.8) scale(1.070 1.000)" font-size="57.4" fill="#111" letter-spacing="1.00">(Normal distribution)</text>
<text transform="translate(1624.8 253.3) scale(1.070 1.000)" font-size="57.4" fill="#111" letter-spacing="1.04">Experimental results</text>
<text transform="translate(743.5 201.0) skewX(-19.0) scale(1.361 1.000)" font-size="54.0" fill="#111">μ</text>
<text transform="translate(793.2 205.5) scale(1.040 1.360)" font-size="54.0" fill="#111" stroke="#fff" stroke-width="1.3">(</text>
<text transform="translate(814.8 201.0) scale(1.061 1.000)" font-size="54.0" fill="#111" font-style="italic">V</text>
<text transform="translate(847.5 214.8) scale(1.160 1.000)" font-size="30.0" fill="#111" letter-spacing="1.30">min</text>
<text transform="translate(915.0 205.5) scale(1.185 1.360)" font-size="54.0" fill="#111" stroke="#fff" stroke-width="1.3">)</text>
<text transform="translate(944.0 203.5) scale(1.383 1.150)" font-size="54.0" fill="#111">=</text>
<text transform="translate(995.4 201.0) scale(1.070 1.000)" font-size="54.0" fill="#111" letter-spacing="2.22">2.716</text>
<text transform="translate(745.3 296.0) scale(1.221 1.000)" font-size="54.0" fill="#111" font-style="italic">σ</text>
<text transform="translate(788.3 273.0) scale(1.082 1.000)" font-size="30.0" fill="#111">2</text>
<text transform="translate(819.1 300.5) scale(1.047 1.360)" font-size="54.0" fill="#111" stroke="#fff" stroke-width="1.3">(</text>
<text transform="translate(845.3 296.0) scale(1.061 1.000)" font-size="54.0" fill="#111" font-style="italic">V</text>
<text transform="translate(874.7 309.8) scale(1.160 1.000)" font-size="30.0" fill="#111" letter-spacing="1.25">min</text>
<text transform="translate(940.9 300.5) scale(1.255 1.360)" font-size="54.0" fill="#111" stroke="#fff" stroke-width="1.3">)</text>
<text transform="translate(971.1 298.5) scale(1.387 1.150)" font-size="54.0" fill="#111">=</text>
<text transform="translate(1019.9 296.0) scale(1.070 1.000)" font-size="54.0" fill="#111" letter-spacing="0.73">1.164</text>
<text transform="translate(1449.9 404.0) skewX(-19.0) scale(1.361 1.000)" font-size="54.0" fill="#111">μ</text>
<text transform="translate(1497.2 408.5) scale(1.113 1.360)" font-size="54.0" fill="#111" stroke="#fff" stroke-width="1.3">(</text>
<text transform="translate(1522.3 404.0) scale(1.091 1.000)" font-size="54.0" fill="#111" font-style="italic">V</text>
<text transform="translate(1552.9 417.8) scale(1.004 1.000)" font-size="30.0" fill="#111">m</text>
<text transform="translate(1585.6 417.8) scale(1.160 1.000)" font-size="30.0" fill="#111" font-style="italic" letter-spacing="1.94">ed</text>
<text transform="translate(1630.5 408.5) scale(1.178 1.360)" font-size="54.0" fill="#111" stroke="#fff" stroke-width="1.3">)</text>
<text transform="translate(1662.9 406.5) scale(1.383 1.150)" font-size="54.0" fill="#111">=</text>
<text transform="translate(1707.1 404.0) scale(1.070 1.000)" font-size="54.0" fill="#111" letter-spacing="1.52">13.997</text>
<text transform="translate(1451.7 498.2) scale(1.257 1.000)" font-size="54.0" fill="#111" font-style="italic">σ</text>
<text transform="translate(1494.9 475.2) scale(0.893 1.000)" font-size="30.0" fill="#111">2</text>
<text transform="translate(1524.3 502.7) scale(1.119 1.360)" font-size="54.0" fill="#111" stroke="#fff" stroke-width="1.3">(</text>
<text transform="translate(1549.4 498.2) scale(1.091 1.000)" font-size="54.0" fill="#111" font-style="italic">V</text>
<text transform="translate(1580.0 512.0) scale(1.004 1.000)" font-size="30.0" fill="#111">m</text>
<text transform="translate(1612.8 512.0) scale(1.160 1.000)" font-size="30.0" fill="#111" font-style="italic" letter-spacing="1.86">ed</text>
<text transform="translate(1657.6 502.7) scale(1.185 1.360)" font-size="54.0" fill="#111" stroke="#fff" stroke-width="1.3">)</text>
<text transform="translate(1690.0 500.7) scale(1.383 1.150)" font-size="54.0" fill="#111">=</text>
<text transform="translate(1741.4 498.2) scale(1.070 1.000)" font-size="54.0" fill="#111" letter-spacing="1.64">2.749</text>
<text transform="translate(1788.8 606.2) skewX(-19.0) scale(1.361 1.000)" font-size="54.0" fill="#111">μ</text>
<text transform="translate(1836.1 610.7) scale(1.113 1.360)" font-size="54.0" fill="#111" stroke="#fff" stroke-width="1.3">(</text>
<text transform="translate(1861.2 606.2) scale(1.089 1.000)" font-size="54.0" fill="#111" font-style="italic">V</text>
<text transform="translate(1891.7 620.0) scale(1.160 1.000)" font-size="30.0" fill="#111" letter-spacing="-1.24">max</text>
<text transform="translate(1962.5 610.7) scale(1.262 1.360)" font-size="54.0" fill="#111" stroke="#fff" stroke-width="1.3">)</text>
<text transform="translate(1997.3 608.7) scale(1.339 1.150)" font-size="54.0" fill="#111">=</text>
<text transform="translate(2047.5 606.2) scale(1.070 1.000)" font-size="54.0" fill="#111" letter-spacing="1.57">21.912</text>
<text transform="translate(1790.5 702.7) scale(1.293 1.000)" font-size="54.0" fill="#111" font-style="italic">σ</text>
<text transform="translate(1834.9 679.7) scale(0.893 1.000)" font-size="30.0" fill="#111">2</text>
<text transform="translate(1863.2 707.2) scale(1.119 1.360)" font-size="54.0" fill="#111" stroke="#fff" stroke-width="1.3">(</text>
<text transform="translate(1888.3 702.7) scale(1.091 1.000)" font-size="54.0" fill="#111" font-style="italic">V</text>
<text transform="translate(1918.9 716.5) scale(1.160 1.000)" font-size="30.0" fill="#111" letter-spacing="-1.24">max</text>
<text transform="translate(1990.7 707.2) scale(1.262 1.360)" font-size="54.0" fill="#111" stroke="#fff" stroke-width="1.3">)</text>
<text transform="translate(2023.2 705.2) scale(1.387 1.150)" font-size="54.0" fill="#111">=</text>
<text transform="translate(2072.6 702.7) scale(1.070 1.000)" font-size="54.0" fill="#111" letter-spacing="1.59">3.829</text>
</svg></body></html>
